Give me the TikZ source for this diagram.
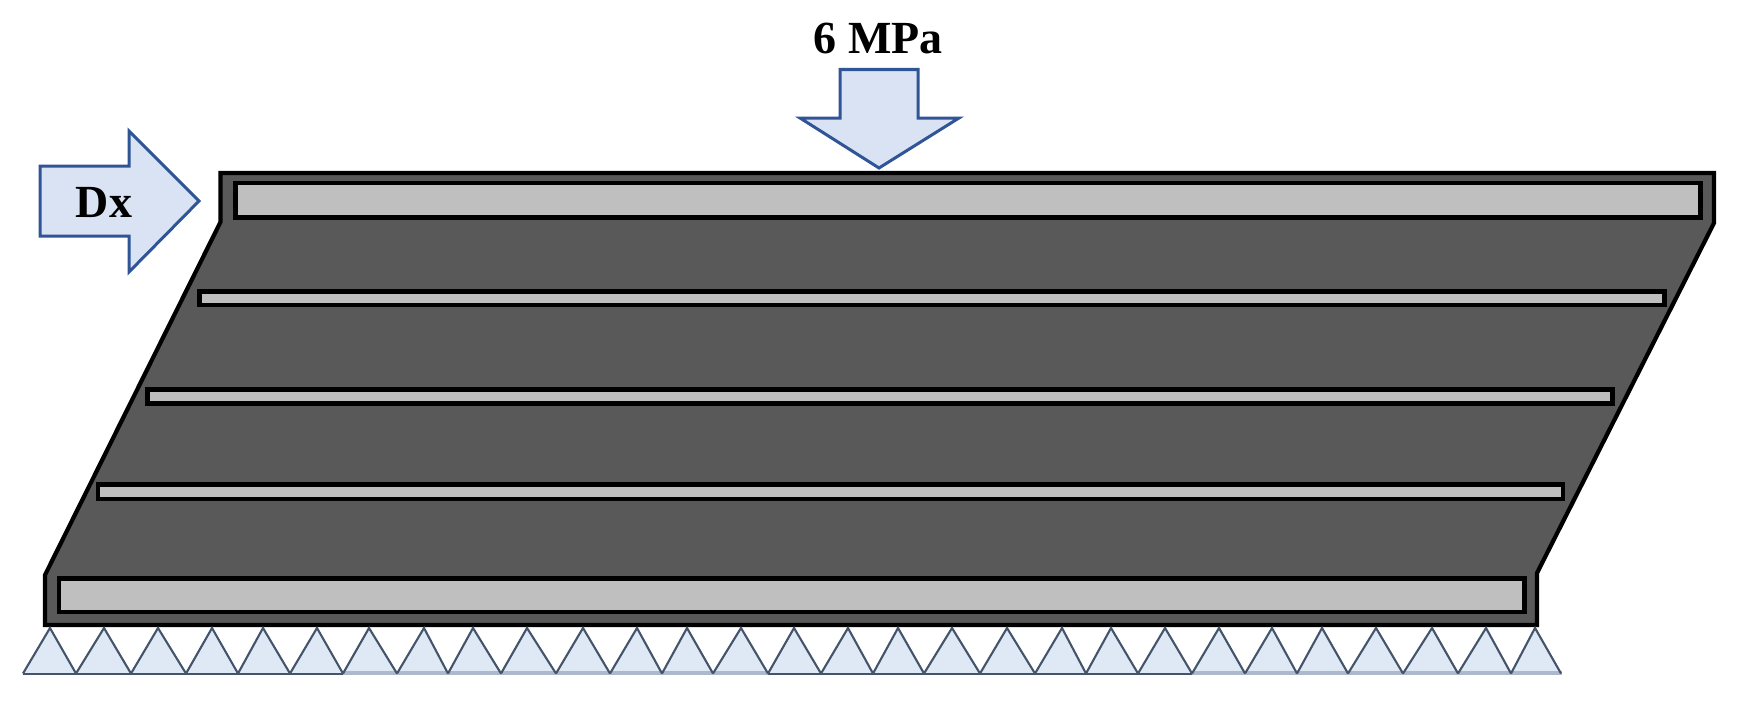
\documentclass[tikz,border=0pt]{standalone}
\usepackage{fontspec}
\setmainfont{Liberation Serif}
\tikzset{
  bodyshape/.style={draw=black,fill=bodygrey,line width=4.2pt,line join=miter},
  barshape/.style={draw=black,fill=bargrey,line width=4.6pt,line join=miter},
  loadarrow/.style={draw=arrowblue,fill=arrowfill,line width=3pt,line join=miter},
  loadlabel/.style={anchor=base,inner sep=0pt,font=\fontsize{46}{52}\selectfont\bfseries},
  supportfill/.style={fill=supportblue,draw=none},
  supportside/.style={draw=supportedge,line width=2.1pt,line join=miter},
}
\definecolor{bodygrey}{HTML}{595959}
\definecolor{bargrey}{HTML}{BFBFBF}
\definecolor{arrowblue}{HTML}{2F5597}
\definecolor{arrowfill}{HTML}{DAE3F3}
\definecolor{supportblue}{HTML}{DEE9F5}
\definecolor{supportedge}{HTML}{44546A}
\definecolor{baselight}{HTML}{ADB9CA}
\begin{document}
\begin{tikzpicture}[x=1pt,y=-1pt]
\useasboundingbox (0,0) rectangle (1739,701);
% body
\draw[bodyshape] (220.5,173) -- (1714,173) -- (1714,223) -- (1537,573) -- (1537,625)
  -- (45,625) -- (45,575) -- (220.5,222) -- cycle;
% bars
\draw[barshape] (235.7,183) rectangle (1700.5,217.5);
\draw[barshape] (199.5,291.5) rectangle (1664.5,305);
\draw[barshape] (147.5,389.5) rectangle (1612.5,403.5);
\draw[barshape] (98,484.5) rectangle (1563,499);
\draw[barshape] (59,578.5) rectangle (1524.5,612);
% supports
\foreach \l/\a/\r in {23/50/76,76/104/131,131/158/186,186/212/238,238/263/290,290/317/343,
  343/369/397,397/424/448,448/473/501,501/527/556,556/583/610,610/637/662,662/687/713,713/741/768,
  768/794/821,821/848/873,873/898/924,924/952/980,980/1007/1035,1035/1062/1086,1086/1111/1138,1138/1165/1192,
  1192/1219/1245,1245/1272/1297,1297/1322/1348,1348/1376/1403,1403/1432/1458,1458/1486/1511,1511/1535/1561}{
  \fill[supportfill] (\l,673.5) -- (\a,628) -- (\r,673.5) -- cycle;
}
\draw[baselight,line width=4pt] (343,673) -- (768,673);
\draw[baselight,line width=4pt] (1192,673) -- (1562,673);
\draw[supportedge,line width=2pt] (23,674) -- (343,674);
\draw[supportedge,line width=2pt] (768,674) -- (1192,674);
\foreach \l/\a/\r in {23/50/76,76/104/131,131/158/186,186/212/238,238/263/290,290/317/343,
  343/369/397,397/424/448,448/473/501,501/527/556,556/583/610,610/637/662,662/687/713,713/741/768,
  768/794/821,821/848/873,873/898/924,924/952/980,980/1007/1035,1035/1062/1086,1086/1111/1138,1138/1165/1192,
  1192/1219/1245,1245/1272/1297,1297/1322/1348,1348/1376/1403,1403/1432/1458,1458/1486/1511,1511/1535/1561}{
  \draw[supportside] (\l,673.5) -- (\a,628) -- (\r,673.5);
}
% load arrows
\draw[loadarrow] (40,166) -- (129,166) -- (129,131) -- (199,201) -- (129,272) -- (129,236) -- (40,236) -- cycle;
\draw[loadarrow] (840,69.5) -- (918,69.5) -- (918,118) -- (959,118) -- (879,168) -- (800,118) -- (840,118) -- cycle;
% labels
\node[loadlabel] (dxlabel) at (104,217) {Dx};
\node[loadlabel] (mpalabel) at (878,53) {6 MPa};
\end{tikzpicture}
\end{document}
